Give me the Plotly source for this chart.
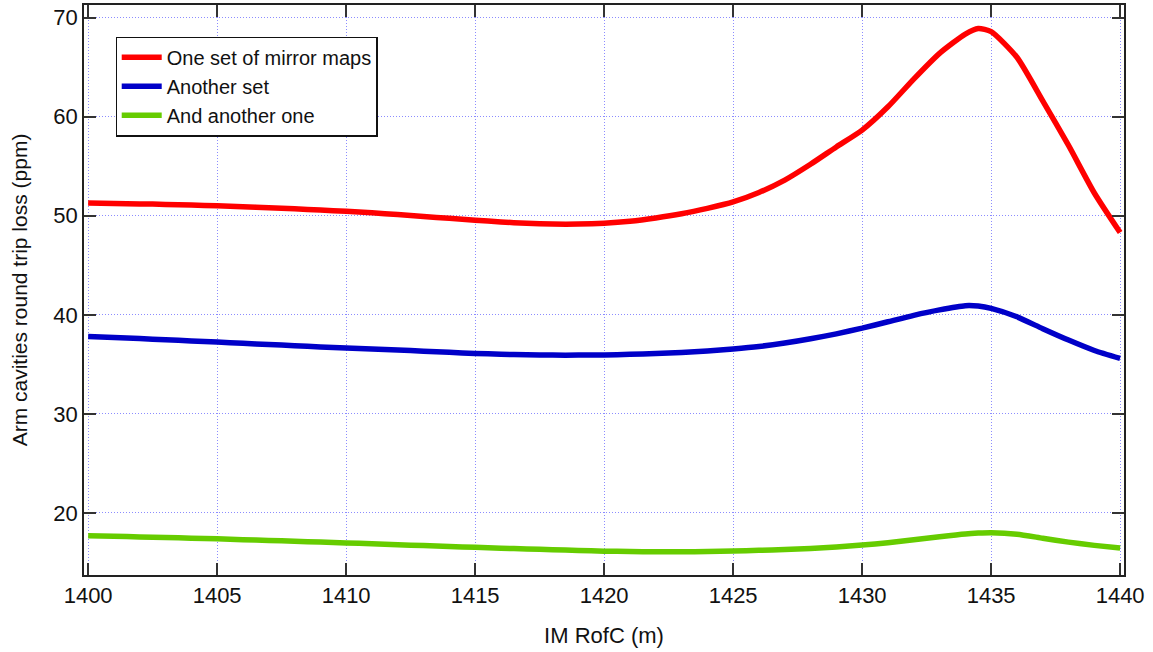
import plotly.graph_objects as go

# IM radius of curvature scan (m), with an extra sample at the resonance peak
rofc = [1400, 1401, 1402, 1403, 1404, 1405, 1406, 1407, 1408, 1409,
        1410, 1411, 1412, 1413, 1414, 1415, 1416, 1417, 1418, 1419,
        1420, 1421, 1422, 1423, 1424, 1425, 1426, 1427, 1428, 1429,
        1430, 1431, 1432, 1433, 1434, 1434.5, 1435, 1436, 1437, 1438, 1439,
        1440]

# Round-trip loss in the arm cavities (ppm) for three mirror map sets
loss_mirror_maps = [51.30, 51.25, 51.20, 51.15, 51.08, 51.00, 50.92, 50.82, 50.70, 50.58,
                    50.45, 50.30, 50.12, 49.93, 49.74, 49.55, 49.38, 49.24, 49.16, 49.16,
                    49.25, 49.45, 49.78, 50.20, 50.75, 51.40, 52.35, 53.60, 55.20, 56.95,
                    58.65, 61.00, 63.80, 66.40, 68.35, 68.90, 68.60, 66.00, 61.60, 57.10, 52.30,
                    48.30]
loss_another_set = [37.80, 37.70, 37.60, 37.48, 37.36, 37.25, 37.13, 37.00, 36.88, 36.76,
                    36.65, 36.55, 36.45, 36.33, 36.21, 36.10, 36.02, 35.96, 35.93, 35.93,
                    35.95, 36.01, 36.09, 36.20, 36.35, 36.55, 36.80, 37.15, 37.58, 38.08,
                    38.65, 39.30, 39.95, 40.50, 40.92, 40.88, 40.65, 39.80, 38.60, 37.45, 36.40,
                    35.60]
loss_another_one = [17.70, 17.64, 17.57, 17.51, 17.45, 17.38, 17.30, 17.22, 17.14, 17.05,
                    16.97, 16.88, 16.79, 16.70, 16.61, 16.52, 16.44, 16.36, 16.28, 16.21,
                    16.14, 16.10, 16.08, 16.08, 16.10, 16.15, 16.22, 16.30, 16.40, 16.55,
                    16.75, 16.98, 17.28, 17.60, 17.88, 17.96, 18.00, 17.85, 17.45, 17.05, 16.72,
                    16.45]

series_names = ["One set of mirror maps", "Another set", "And another one"]
series_values = [loss_mirror_maps, loss_another_set, loss_another_one]
series_colors = ["#ff0000", "#0000c8", "#66cc00"]

x_ticks = [1400, 1405, 1410, 1415, 1420, 1425, 1430, 1435, 1440]
y_ticks = [20, 30, 40, 50, 60, 70]

FONT = "Liberation Sans, Arial, Helvetica, sans-serif"

fig = go.Figure()
for name, vals, col in zip(series_names, series_values, series_colors):
    fig.add_trace(go.Scatter(
        x=rofc, y=vals, name=name, mode="lines",
        line=dict(color=col, width=5.5, shape="spline", smoothing=0.6),
    ))

axis_common = dict(
    showline=True, linecolor="#222222", linewidth=1.5, mirror="ticks",
    ticks="inside", ticklen=12, tickwidth=1.5, tickcolor="#333333",
    showgrid=True, gridcolor="#8c8cff", gridwidth=1, griddash="1px,2px",
    zeroline=False, tickfont=dict(size=22, color="#111111", family=FONT),
)

fig.update_layout(
    width=1153, height=652,
    margin=dict(l=84, r=29, t=3, b=77),
    paper_bgcolor="white", plot_bgcolor="white",
    font=dict(family=FONT, color="#111111"),
    showlegend=True,
    legend=dict(
        x=0.0303, y=0.9446, xanchor="left", yanchor="top",
        bgcolor="white", bordercolor="#111111", borderwidth=1.2,
        font=dict(size=20, family=FONT, color="#111111"),
        tracegroupgap=0, itemwidth=40,
    ),
    xaxis=dict(
        range=[1399.84, 1440.15], tickvals=x_ticks,
        title=dict(text="IM RofC (m)", font=dict(size=22, family=FONT), standoff=20),
        **axis_common,
    ),
    yaxis=dict(
        range=[13.73, 71.28], tickvals=y_ticks,
        title=dict(text="Arm cavities round trip loss (ppm)", font=dict(size=21, family=FONT), standoff=20),
        **axis_common,
    ),
)

fig.write_html("out.html")
